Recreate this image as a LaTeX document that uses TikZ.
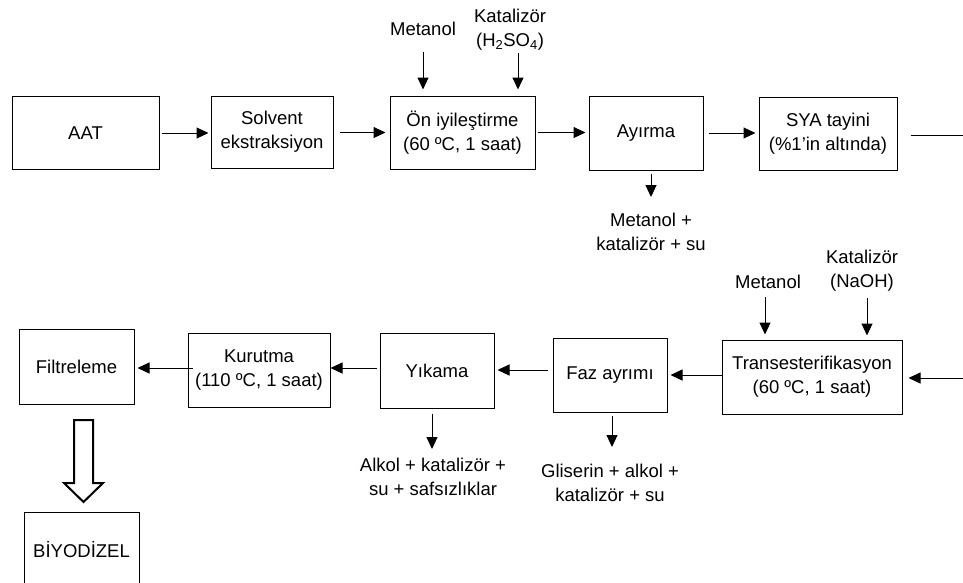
\documentclass[tikz,border=0pt]{standalone}
\usepackage{fontspec}
\setmainfont{Liberation Sans}
\usetikzlibrary{arrows.meta}
\newcommand\dgfs{\fontsize{18.5}{24}\selectfont}
\begin{document}
\begin{tikzpicture}[x=1pt,y=-1pt,
  box/.style={draw, line width=1pt, align=center, inner sep=0pt, font=\dgfs},
  lbl/.style={align=center, inner sep=0pt, font=\dgfs},
  arr/.style={-{Triangle[length=12pt,width=11pt]}, line width=1pt},
  plain/.style={line width=1pt},
]
\clip (0,0) rectangle (963,582);
% top row
\node[box, minimum width=147pt, minimum height=73pt] (aat) at (85.5,133) {AAT};
\node[box, minimum width=122pt, minimum height=72pt] (solv) at (272,132) {Solvent\\ekstraksiyon};
\node[box, minimum width=145pt, minimum height=73pt] (on) at (462.5,132.5) {Ön iyileştirme\\(60 ºC, 1 saat)};
\node[box, minimum width=114pt, minimum height=74pt] (ayr) at (646,133) {Ayırma};
\node[box, minimum width=138pt, minimum height=73pt] (sya) at (828,133.5) {SYA tayini\\(\%1’in altında)};
% bottom row
\node[box, minimum width=115pt, minimum height=75pt] (fil) at (76.5,366.5) {Filtreleme};
\node[box, minimum width=142pt, minimum height=74pt] (kur) at (259,370) {Kurutma\\(110 ºC, 1 saat)};
\node[box, minimum width=114pt, minimum height=75pt] (yik) at (437,370.5) {Yıkama};
\node[box, minimum width=114pt, minimum height=74pt] (faz) at (610,375) {Faz ayrımı};
\node[box, minimum width=180pt, minimum height=74pt] (tr) at (812,377) {Transesterifikasyon\\(60 ºC, 1 saat)};
\node[box, minimum width=115pt, minimum height=76pt] (biy) at (81.5,550) {BİYODİZEL};
% labels
\node[lbl] (m1) at (423,29) {Metanol};
\node[lbl] (k1) at (510,30) {Katalizör\\(H\textsubscript{2}SO\textsubscript{4})};
\node[lbl] (o1) at (651,232) {Metanol +\\katalizör + su};
\node[lbl] (m2) at (768,282) {Metanol};
\node[lbl] (k2) at (862,271) {Katalizör\\(NaOH)};
\node[lbl] (o2) at (433,477) {Alkol + katalizör +\\su + safsızlıklar};
\node[lbl] (o3) at (610,483) {Gliserin + alkol +\\katalizör + su};
% coordinates
\coordinate (m1a) at (423,52);
\coordinate (k1a) at (518,53);
\coordinate (o1a) at (651,197);
\coordinate (m2a) at (765,297);
\coordinate (k2a) at (867,298);
\coordinate (o2a) at (432,449);
\coordinate (o3a) at (612,447);
\coordinate (rtop) at (963,135);
\coordinate (rbot) at (963,378);
% top row connectors
\draw[arr, shorten <=2pt, shorten >=2pt] (aat.east) -- (aat.east -| solv.west);
\draw[arr, shorten <=6pt, shorten >=4pt] (solv.east |- on) -- (on.west);
\draw[arr, shorten <=2pt, shorten >=3pt] (on.east) -- (on.east -| ayr.west);
\draw[arr, shorten <=5pt, shorten >=3pt] (ayr.east) -- (ayr.east -| sya.west);
\draw[plain, shorten <=13pt] (sya.east |- rtop) -- (rtop);
% inputs / outputs
\draw[arr, shorten >=6pt] (m1a) -- (m1a |- on.north);
\draw[arr, shorten >=6pt] (k1a) -- (k1a |- on.north);
\draw[arr, shorten <=3pt] (o1a |- ayr.south) -- (o1a);
\draw[arr, shorten >=5pt] (m2a) -- (m2a |- tr.north);
\draw[arr, shorten >=4pt] (k2a) -- (k2a |- tr.north);
\draw[arr, shorten <=5pt] (o2a |- yik.south) -- (o2a);
\draw[arr, shorten <=3pt] (o3a |- faz.south) -- (o3a);
% bottom row connectors
\draw[arr, shorten >=6pt] (rbot) -- (rbot -| tr.east);
\draw[arr, shorten >=3pt] (tr.west |- 0,375) -- (faz.east |- 0,375);
\draw[arr, shorten <=5pt, shorten >=3pt] (faz.west |- 0,370) -- (yik.east |- 0,370);
\draw[arr, shorten <=3pt] (yik.west |- 0,368) -- (kur.east |- 0,368);
\draw[arr, shorten <=-5pt, shorten >=3pt] (kur.west |- 0,368) -- (fil.east |- 0,368);
% hollow arrow to product
\draw[line width=2pt, line join=miter] (74,420) -- (93,420) -- (93,483) -- (103,483) -- (83.5,502) -- (64,483) -- (74,483) -- cycle;
\end{tikzpicture}
\end{document}
